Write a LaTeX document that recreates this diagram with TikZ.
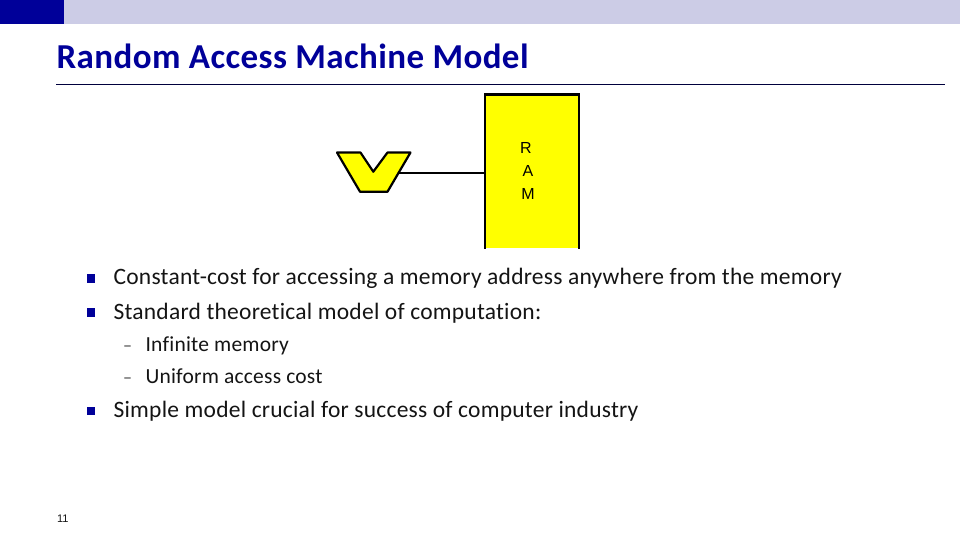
\documentclass[tikz,border=0pt]{standalone}
\usepackage{fontspec}
\setmainfont{Carlito}[Ligatures=NoCommon]
\newfontfamily\ramfont{Liberation Sans}
\usepackage{xcolor}
\usetikzlibrary{positioning}
\definecolor{navy}{RGB}{0,0,153}
\definecolor{pale}{RGB}{204,204,230}
\definecolor{ramyellow}{RGB}{255,255,0}
\definecolor{bodytext}{RGB}{20,20,20}
\begin{document}
\begin{tikzpicture}[x=1pt, y=-1pt, line width=2.2pt,
    band/.style={inner sep=0pt, outer sep=0pt, minimum height=24.5pt, anchor=north west},
    bullet/.style={fill=navy, inner sep=0pt, minimum size=8.5pt},
    item/.style={anchor=base west, inner sep=0pt, text=bodytext, font=\fontsize{23.5}{27}\selectfont\addfontfeature{LetterSpace=1}},
    subitem/.style={anchor=base west, inner sep=0pt, text=bodytext, font=\fontsize{21.5}{24}\selectfont\addfontfeature{LetterSpace=1}},
    subdash/.style={anchor=base west, inner sep=0pt, text=bodytext!80, font=\fontsize{18}{24}\selectfont},
    letter/.style={inner sep=0pt, text=black, font=\ramfont\fontsize{16}{18}\selectfont}]
        \useasboundingbox (0,0) rectangle (960,540);

        % header
        \node [band, fill=navy, minimum width=64pt] (corner) at (0,0) {};
        \node [band, fill=pale, minimum width=896pt, anchor=north west] (strip) at (corner.north east) {};
        \node [anchor=base west, inner sep=0pt, text=navy, font=\bfseries\fontsize{35}{38}\selectfont\addfontfeature{LetterSpace=1.2}] (title) at (55.5,68.5) {Random Access Machine Model};
        \coordinate (ruleleft) at (56,84.5);
        \coordinate (ruleright) at (945,84.5);
        \draw [navy!40!black, line width=0.8pt] (ruleleft) -- (ruleright);

        % memory
        \node [fill=ramyellow, inner sep=0pt, minimum width=92pt, minimum height=152pt] (ram) at (532,171.7) {};
        \draw (ram.south west) -- (ram.north west) -- (ram.north east) -- (ram.south east);
        \node [letter] (r) at (526,148) {R};
        \node [letter] (a) at (528,171) {A};
        \node [letter] (m) at (528,194) {M};

        % processor
        \coordinate (v1) at (337,152.5);
        \coordinate (v2) at (360.5,152.5);
        \coordinate (v3) at (373.3,171.7);
        \coordinate (v4) at (387.5,152.5);
        \coordinate (v5) at (410.5,152.5);
        \coordinate (v6) at (387.5,191.7);
        \coordinate (v7) at (360,191.7);
        \coordinate (vedge) at (399,172.7);
        \draw [fill=ramyellow, line join=round] (v1) -- (v2) -- (v3) -- (v4) -- (v5) -- (v6) -- (v7) -- cycle;
        \draw (vedge) -- (ram.west |- vedge);

        % bullets
        \node [bullet] (b1) at (91,278.5) {};
        \node [bullet] (b2) at (91,312.7) {};
        \node [bullet] (b3) at (91,411) {};
        \node [item] (t1) at (112.5,284) {Constant-cost for accessing a memory address anywhere from the memory};
        \node [item] (t2) at (112.5,319) {Standard theoretical model of computation:};
        \node [item] (t3) at (112.5,417) {Simple model crucial for success of computer industry};

        \node [subdash] (d1) at (122,351) {–};
        \node [subdash] (d2) at (122,383) {–};
        \node [subitem] (s1) at (144.5,351) {Infinite memory};
        \node [subitem] (s2) at (144.5,383) {Uniform access cost};

        % page number
        \node [anchor=base west, inner sep=0pt, text=bodytext, font=\ramfont\fontsize{11}{12}\selectfont] (page) at (56,522) {11};
    \end{tikzpicture}
\end{document}
